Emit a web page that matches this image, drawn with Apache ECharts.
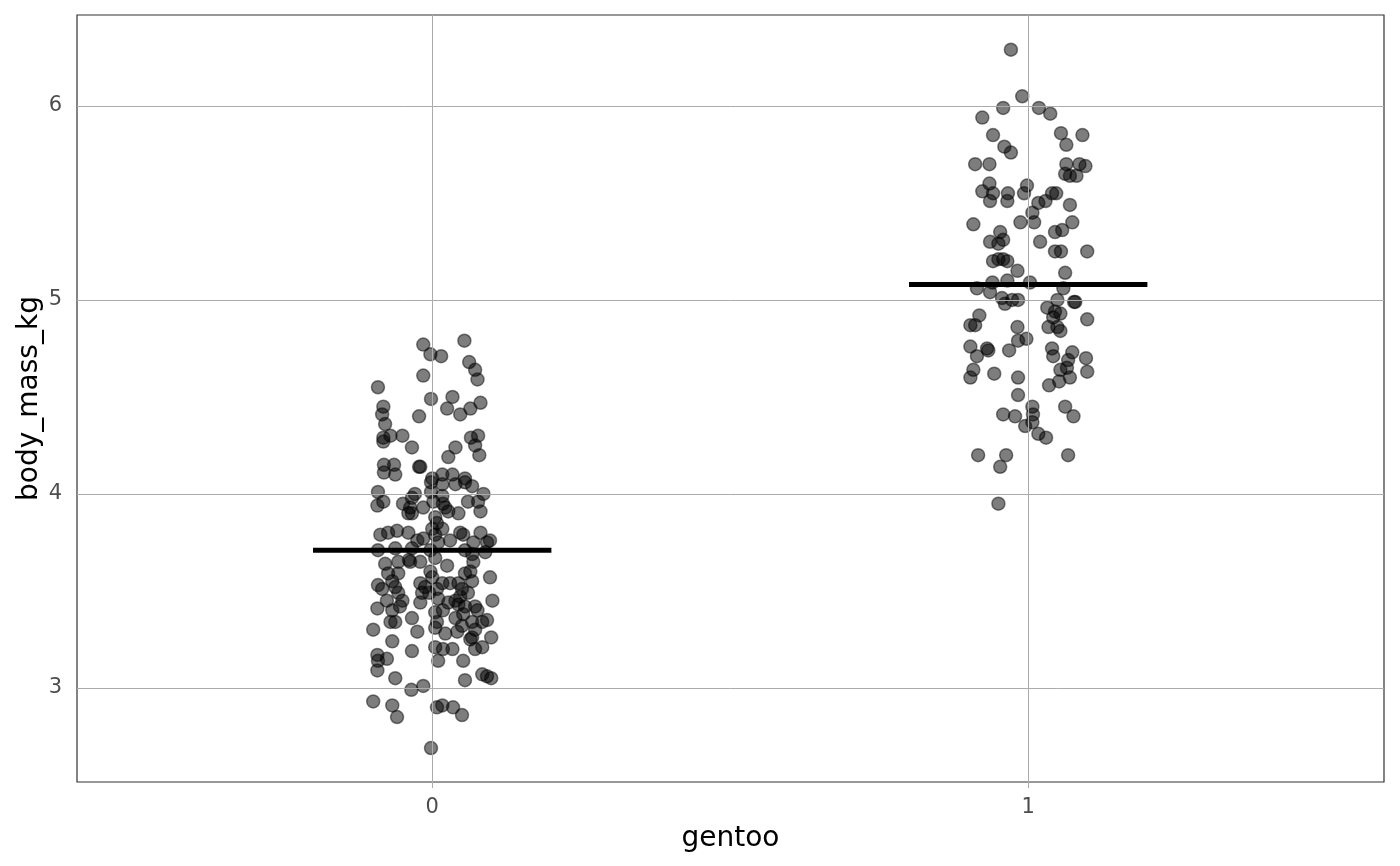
<!DOCTYPE html>
<html>
<head>
<meta charset="utf-8">
<title>body_mass_kg by gentoo</title>
<script src="https://cdn.jsdelivr.net/npm/echarts@6/dist/echarts.min.js"></script>
<style>
  html, body { margin: 0; padding: 0; background: #ffffff; }
  #chart { width: 1400px; height: 866px; }
</style>
</head>
<body>
<div id="chart"></div>
<script>
// jittered x positions and body mass (kg), gentoo = 0
var jitter0 = [
  -0.015, 0.054, -0.003, 0.015, 0.062, 0.072, 0.076, -0.015, -0.091, -0.002,
  0.034, 0.025, 0.081, 0.064, 0.047, -0.082, -0.084, -0.079, -0.022, -0.082,
  -0.082, -0.070, -0.050, -0.034, 0.039, 0.027, 0.065, 0.077, 0.072, 0.079,
  -0.081, -0.064, -0.081, -0.062, -0.022, -0.020, 0.000, 0.017, 0.034, 0.055,
  -0.002, 0.017, 0.039, 0.055, 0.067, 0.086, -0.091, -0.029, -0.034, -0.002,
  0.017, -0.092, -0.082, -0.049, -0.037, -0.040, -0.015, 0.002, 0.018, 0.022,
  0.060, 0.077, 0.044, 0.081, 0.005, 0.008, 0.000, 0.017, -0.087, -0.074,
  -0.059, -0.040, -0.015, 0.005, 0.010, 0.030, 0.047, 0.052, 0.081, 0.097,
  0.092, -0.091, -0.062, -0.034, -0.003, 0.055, 0.089, -0.079, -0.057, -0.037,
  -0.020, 0.005, 0.025, 0.069, 0.064, 0.055, -0.003, 0.000, -0.074, -0.057,
  0.097, -0.091, -0.084, -0.067, -0.062, -0.057, -0.020, -0.012, -0.017, 0.017,
  0.030, 0.044, 0.067, 0.060, 0.050, 0.101, -0.020, 0.010, 0.027, 0.039,
  0.044, 0.055, 0.072, -0.092, -0.067, -0.054, 0.005, -0.034, -0.062, -0.070,
  0.039, 0.052, 0.067, 0.092, -0.099, -0.025, 0.005, 0.022, 0.042, 0.050,
  0.084, 0.067, 0.064, 0.072, 0.099, -0.067, -0.034, 0.005, 0.018, 0.034,
  0.010, 0.052, 0.072, 0.084, -0.092, -0.091, -0.076, -0.092, -0.062, 0.055,
  0.084, 0.092, 0.099, -0.035, -0.015, -0.099, -0.067, -0.059, 0.008, 0.017,
  0.035, 0.050, -0.002, -0.034, -0.025, 0.027, 0.069, -0.076, -0.050, -0.005,
  -0.039, 0.067, 0.008, 0.047, 0.018, 0.076, 0.008
];
var mass0 = [
  4.77, 4.79, 4.72, 4.71, 4.68, 4.64, 4.59, 4.61, 4.55, 4.49,
  4.50, 4.44, 4.47, 4.44, 4.41, 4.45, 4.41, 4.36, 4.40, 4.29,
  4.27, 4.30, 4.30, 4.24, 4.24, 4.19, 4.29, 4.30, 4.25, 4.20,
  4.15, 4.15, 4.11, 4.10, 4.14, 4.14, 4.08, 4.10, 4.10, 4.08,
  4.06, 4.05, 4.05, 4.06, 4.04, 4.00, 4.01, 4.00, 3.98, 4.01,
  3.99, 3.94, 3.96, 3.95, 3.93, 3.90, 3.93, 3.96, 3.95, 3.93,
  3.96, 3.96, 3.90, 3.91, 3.88, 3.85, 3.82, 3.82, 3.79, 3.80,
  3.81, 3.80, 3.77, 3.79, 3.75, 3.76, 3.80, 3.79, 3.80, 3.76,
  3.75, 3.71, 3.72, 3.72, 3.71, 3.71, 3.70, 3.64, 3.65, 3.65,
  3.65, 3.67, 3.63, 3.65, 3.60, 3.59, 3.60, 3.57, 3.59, 3.59,
  3.57, 3.53, 3.51, 3.55, 3.52, 3.49, 3.54, 3.52, 3.49, 3.54,
  3.54, 3.54, 3.55, 3.49, 3.51, 3.45, 3.44, 3.46, 3.44, 3.45,
  3.43, 3.42, 3.42, 3.41, 3.40, 3.42, 3.39, 3.36, 3.34, 3.34,
  3.36, 3.38, 3.34, 3.35, 3.30, 3.29, 3.31, 3.28, 3.29, 3.32,
  3.34, 3.26, 3.25, 3.30, 3.26, 3.24, 3.19, 3.21, 3.20, 3.20,
  3.14, 3.14, 3.20, 3.21, 3.17, 3.14, 3.15, 3.09, 3.05, 3.04,
  3.07, 3.06, 3.05, 2.99, 3.01, 2.93, 2.91, 2.85, 2.90, 2.91,
  2.90, 2.86, 2.69, 3.90, 3.76, 3.91, 3.75, 3.45, 3.45, 3.49,
  3.66, 3.69, 3.51, 3.47, 3.40, 3.40, 3.34
];

// jittered x positions and body mass (kg), gentoo = 1
var jitter1 = [
  0.971, 0.990, 0.958, 1.018, 1.037, 0.923, 0.941, 1.055, 1.091, 1.064,
  0.960, 0.971, 0.911, 0.935, 1.064, 1.062, 1.070, 1.081, 1.086, 1.096,
  0.935, 0.998, 0.923, 0.941, 0.966, 0.993, 1.040, 1.047, 0.936, 0.965,
  1.017, 1.029, 1.070, 1.007, 1.010, 0.908, 0.987, 1.074, 1.045, 1.057,
  0.953, 0.936, 0.950, 0.958, 1.020, 1.045, 1.055, 1.099, 0.941, 0.950,
  0.958, 0.965, 0.982, 1.062, 0.940, 0.965, 1.003, 0.914, 0.936, 1.059,
  0.956, 0.961, 0.973, 0.983, 1.049, 1.079, 1.077, 1.032, 1.045, 1.054,
  1.042, 0.918, 0.903, 0.911, 1.099, 0.982, 0.983, 0.997, 1.034, 1.049,
  1.054, 0.903, 0.931, 0.933, 0.968, 1.040, 1.074, 1.097, 0.914, 1.042,
  1.067, 1.099, 0.908, 0.903, 0.943, 0.983, 1.054, 1.065, 1.070, 1.052,
  1.035, 0.983, 1.007, 1.008, 1.007, 0.995, 0.958, 0.978, 1.062, 1.076,
  1.017, 1.030, 0.916, 0.963, 0.953, 1.067, 0.950
];
var mass1 = [
  6.29, 6.05, 5.99, 5.99, 5.96, 5.94, 5.85, 5.86, 5.85, 5.80,
  5.79, 5.76, 5.70, 5.70, 5.70, 5.65, 5.64, 5.64, 5.70, 5.69,
  5.60, 5.59, 5.56, 5.55, 5.55, 5.55, 5.55, 5.55, 5.51, 5.51,
  5.50, 5.51, 5.49, 5.45, 5.40, 5.39, 5.40, 5.40, 5.35, 5.36,
  5.35, 5.30, 5.29, 5.31, 5.30, 5.25, 5.25, 5.25, 5.20, 5.21,
  5.21, 5.20, 5.15, 5.14, 5.09, 5.10, 5.09, 5.06, 5.04, 5.06,
  5.01, 4.98, 5.00, 5.00, 5.00, 4.99, 4.99, 4.96, 4.94, 4.93,
  4.91, 4.92, 4.87, 4.87, 4.90, 4.86, 4.79, 4.80, 4.86, 4.86,
  4.84, 4.76, 4.75, 4.74, 4.74, 4.75, 4.73, 4.70, 4.71, 4.71,
  4.69, 4.63, 4.64, 4.60, 4.62, 4.60, 4.64, 4.65, 4.60, 4.58,
  4.56, 4.51, 4.45, 4.41, 4.37, 4.35, 4.41, 4.40, 4.45, 4.40,
  4.31, 4.29, 4.20, 4.20, 4.14, 4.20, 3.95
];

// group means
var groupX = [0, 1];
var groupMean = [3.71, 5.08];
var meanHalfWidth = 0.2;

// axis ticks and range
var xTicks = [0, 1];
var yTicks = [3, 4, 5, 6];
var xRange = [-0.596, 1.597];
var yRange = [2.515, 6.469];

function zip(xs, ys) {
  var out = [];
  for (var i = 0; i < xs.length; i++) out.push([xs[i], ys[i]]);
  return out;
}

var gridLines = [];
xTicks.forEach(function (v) { gridLines.push({ xAxis: v }); });
yTicks.forEach(function (v) { gridLines.push({ yAxis: v }); });

var meanSeries = groupX.map(function (g, i) {
  return {
    type: 'line',
    z: 4,
    silent: true,
    symbol: 'none',
    lineStyle: { color: '#000000', width: 5, cap: 'butt' },
    data: [[g - meanHalfWidth, groupMean[i]], [g + meanHalfWidth, groupMean[i]]]
  };
});

var pointStyle = {
  color: 'rgba(0,0,0,0.64)',
  borderColor: 'rgba(0,0,0,0.6)',
  borderWidth: 1.5
};

var chart = echarts.init(document.getElementById('chart'));
var option = {
  backgroundColor: '#ffffff',
  animation: false,
  textStyle: { fontFamily: 'DejaVu Sans' },
  grid: {
    left: 77, right: 16, top: 15, bottom: 84,
    show: true, borderColor: '#333333', borderWidth: 1.2,
    backgroundColor: 'transparent'
  },
  xAxis: {
    type: 'value',
    min: xRange[0], max: xRange[1],
    name: 'gentoo',
    nameLocation: 'middle',
    nameGap: 43,
    nameTextStyle: { fontSize: 28, color: '#000000' },
    axisLine: { show: false },
    axisTick: { show: true, length: 6, lineStyle: { color: '#ababab' }, customValues: xTicks },
    axisLabel: { fontSize: 21, color: '#4d4d4d', margin: 15, customValues: xTicks },
    splitLine: { show: false }
  },
  yAxis: {
    type: 'value',
    min: yRange[0], max: yRange[1],
    name: 'body_mass_kg',
    nameLocation: 'middle',
    nameGap: 33,
    nameMoveOverlap: false,
    nameTextStyle: { fontSize: 28, color: '#000000' },
    axisLine: { show: false },
    axisTick: { show: true, length: 6, lineStyle: { color: '#ababab' }, customValues: yTicks },
    axisLabel: { fontSize: 21, color: '#4d4d4d', margin: 15, customValues: yTicks },
    splitLine: { show: false }
  },
  series: [
    {
      type: 'scatter',
      z: 1,
      silent: true,
      data: [],
      markLine: {
        silent: true,
        symbol: 'none',
        animation: false,
        label: { show: false },
        lineStyle: { color: '#ababab', width: 1, type: 'solid' },
        data: gridLines
      }
    },
    {
      type: 'scatter',
      z: 2,
      symbolSize: 13,
      itemStyle: pointStyle,
      data: zip(jitter0, mass0)
    },
    {
      type: 'scatter',
      z: 2,
      symbolSize: 13,
      itemStyle: pointStyle,
      data: zip(jitter1, mass1)
    }
  ].concat(meanSeries)
};
chart.setOption(option);
window.onresize = chart.resize;
</script>
</body>
</html>
